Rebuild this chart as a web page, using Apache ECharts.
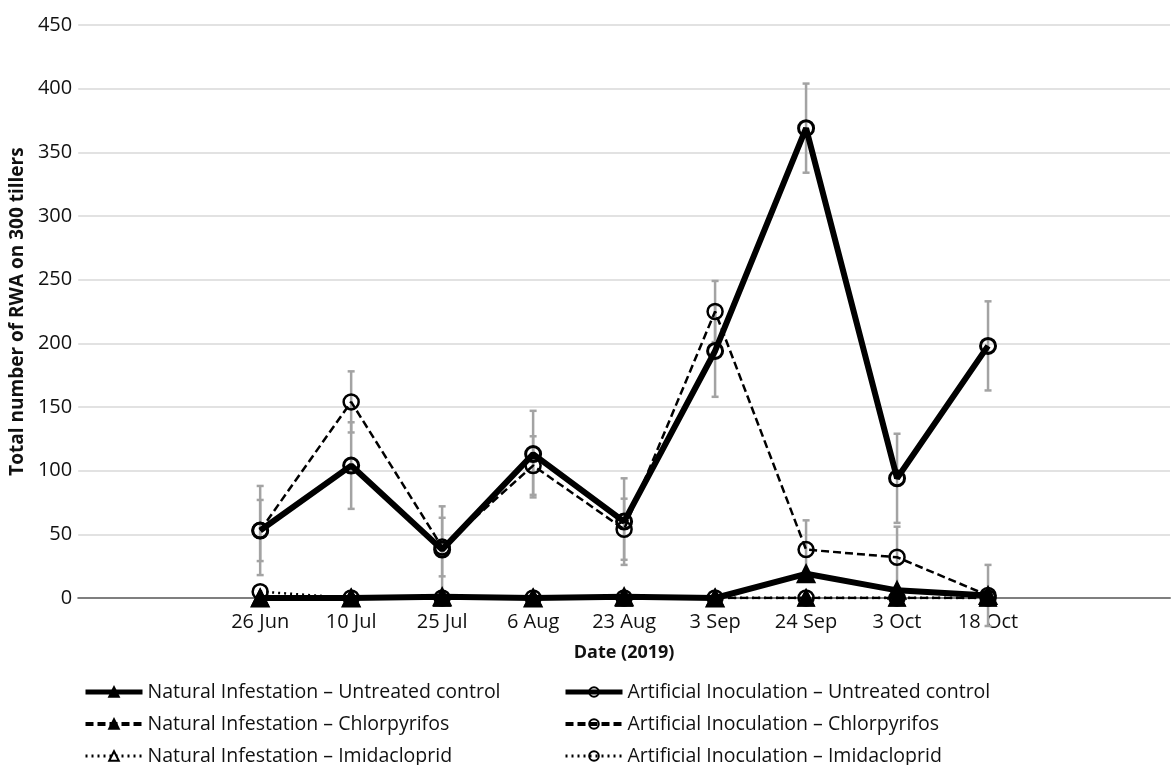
<!DOCTYPE html>
<html>
<head>
<meta charset="utf-8">
<title>RWA counts 2019</title>
<script src="https://cdn.jsdelivr.net/npm/echarts@6/dist/echarts.min.js"></script>
<style>
  html, body { margin: 0; padding: 0; background: #fff; }
  #chart { width: 1173px; height: 765px; }
</style>
</head>
<body>
<div id="chart"></div>
<script>
// sampling dates (x tick labels)
const dates = ['26 Jun', '10 Jul', '25 Jul', '6 Aug', '23 Aug', '3 Sep', '24 Sep', '3 Oct', '18 Oct'];

// Natural infestation
const niUntreated = [0, 0, 1, 0, 1, 0, 19, 6, 2];
const niChlor = [0, 0, 0, 0, 0, 0, 0, 0, 0];
const niImid = [0, 0, 0, 0, 0, 0, 0, 0, 0];

// Artificial inoculation
const aiUntreated = [53, 104, 38, 113, 60, 194, 369, 94, 198];
const aiChlor = [53, 154, 40, 104, 54, 225, 38, 32, 2];
const aiImid = [5, 0, 0, 0, 0, 0, 0, 0, 0];

// error (+/-) on the artificial inoculation series
const aiUntreatedErr = [24, 34, 34, 34, 34, 36, 35, 35, 35];
const aiChlorErr = [35, 24, 23, 23, 24, 24, 23, 24, 24];

const FONT = '"Open Sans", "Noto Sans", sans-serif';
const INK = '#000';
const TEXT = '#111';
const BAR_GREY = '#a3a3a3';

const pts = arr => arr.map((v, i) => [i, v]);
const errPts = (vals, errs) => vals.map((v, i) => [i, v + errs[i], v - errs[i]]);

// vertical error bar with small caps
function renderErrorBar(params, api) {
    const x = api.value(0);
    const hi = api.coord([x, api.value(1)]);
    const lo = api.coord([x, api.value(2)]);
    const cap = 3.5;
    const style = { stroke: BAR_GREY, lineWidth: 2.5 };
    return {
        type: 'group',
        children: [
            { type: 'line', shape: { x1: hi[0], y1: hi[1], x2: lo[0], y2: lo[1] }, style },
            { type: 'line', shape: { x1: hi[0] - cap, y1: hi[1], x2: hi[0] + cap, y2: hi[1] }, style },
            { type: 'line', shape: { x1: lo[0] - cap, y1: lo[1], x2: lo[0] + cap, y2: lo[1] }, style }
        ]
    };
}

function errSeries(vals, errs) {
    return {
        type: 'custom',
        renderItem: renderErrorBar,
        data: errPts(vals, errs),
        clip: false,
        silent: true,
        z: 1,
        encode: { x: 0, y: [1, 2] }
    };
}

function lineSeries(name, data, opts) {
    return {
        name,
        type: 'line',
        data: pts(data),
        symbol: opts.symbol,
        symbolSize: opts.symbolSize,
        showAllSymbol: true,
        z: opts.z || 3,
        lineStyle: { color: INK, width: opts.width, type: opts.dash || 'solid' },
        itemStyle: { color: opts.fill, borderColor: INK, borderWidth: opts.border || 2 },
        emphasis: { disabled: true }
    };
}

// legend entry with its own (thicker) line width
const legendItem = (name, width) => ({ name, lineStyle: { width } });

const legendBase = {
    orient: 'vertical',
    top: 677,
    height: 100,
    itemWidth: 57,
    itemHeight: 12,
    itemGap: 12,
    selectedMode: false,
    textStyle: { fontFamily: FONT, fontSize: 19.5, color: TEXT }
};

const option = {
    animation: false,
    textStyle: { fontFamily: FONT },
    grid: { left: 76, top: 25, width: 1105, bottom: 167 },
    legend: [
        Object.assign({}, legendBase, {
            left: 78,
            data: [
                legendItem('Natural Infestation – Untreated control', 5),
                legendItem('Natural Infestation – Chlorpyrifos', 4),
                legendItem('Natural Infestation – Imidacloprid', 3)
            ]
        }),
        Object.assign({}, legendBase, {
            left: 558,
            data: [
                legendItem('Artificial Inoculation – Untreated control', 5),
                legendItem('Artificial Inoculation – Chlorpyrifos', 4),
                legendItem('Artificial Inoculation – Imidacloprid', 3)
            ]
        })
    ],
    xAxis: {
        type: 'value',
        min: -2,
        max: 10,
        interval: 1,
        name: 'Date (2019)',
        nameLocation: 'middle',
        nameGap: 46,
        nameTextStyle: { fontFamily: FONT, fontSize: 18, fontWeight: 'bold', color: TEXT },
        axisLine: { show: true, onZero: false, lineStyle: { color: '#7f7f7f', width: 2 } },
        axisTick: { show: false },
        splitLine: { show: false },
        axisLabel: {
            fontFamily: FONT,
            fontSize: 20,
            color: TEXT,
            margin: 14,
            showMinLabel: true,
            showMaxLabel: true,
            formatter: v => dates[v] || ''
        }
    },
    yAxis: {
        type: 'value',
        min: 0,
        max: 450,
        interval: 50,
        name: 'Total number of RWA on 300 tillers',
        nameLocation: 'middle',
        nameGap: 44,
        nameTextStyle: { fontFamily: FONT, fontSize: 19, fontWeight: 'bold', color: TEXT },
        axisLine: { show: false },
        axisTick: { show: false },
        splitLine: { lineStyle: { color: '#d9d9d9', width: 1.5 } },
        axisLabel: { fontFamily: FONT, fontSize: 20, color: TEXT, margin: 6 }
    },
    series: [
        errSeries(aiUntreated, aiUntreatedErr),
        errSeries(aiChlor, aiChlorErr),
        lineSeries('Natural Infestation – Imidacloprid', niImid, { symbol: 'triangle', symbolSize: 15, width: 2.5, dash: [2, 4], fill: '#fff', border: 2.5 }),
        lineSeries('Natural Infestation – Chlorpyrifos', niChlor, { symbol: 'triangle', symbolSize: 15, width: 2.5, dash: [8, 4], fill: INK }),
        lineSeries('Natural Infestation – Untreated control', niUntreated, { symbol: 'triangle', symbolSize: 17, width: 6, fill: INK, z: 4 }),
        lineSeries('Artificial Inoculation – Imidacloprid', aiImid, { symbol: 'circle', symbolSize: 15, width: 2.5, dash: [2, 4], fill: 'rgba(255,255,255,0)', border: 2.5 }),
        lineSeries('Artificial Inoculation – Chlorpyrifos', aiChlor, { symbol: 'circle', symbolSize: 15, width: 2.5, dash: [8, 4], fill: 'rgba(255,255,255,0)', border: 2.5 }),
        lineSeries('Artificial Inoculation – Untreated control', aiUntreated, { symbol: 'circle', symbolSize: 15, width: 6, fill: 'rgba(255,255,255,0)', border: 3, z: 4 })
    ]
};

const chart = echarts.init(document.getElementById('chart'), null, { renderer: 'canvas' });
chart.setOption(option);
</script>
</body>
</html>
